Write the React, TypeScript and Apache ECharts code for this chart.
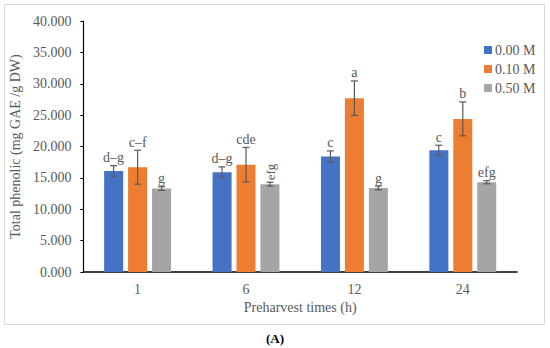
import React, { useEffect, useRef } from "react";
import * as echarts from "echarts";

const categories = ["1", "6", "12", "24"];
const seriesNames = ["0.00 M", "0.10 M", "0.50 M"];
const colors = ["#4472C4", "#ED7D31", "#A5A5A5"];
const values0 = [16.1, 15.9, 18.4, 19.4];
const values1 = [16.7, 17.1, 27.7, 24.4];
const values2 = [13.3, 14.0, 13.4, 14.3];
const errors0 = [0.85, 0.85, 0.9, 0.8];
const errors1 = [2.7, 2.75, 2.75, 2.7];
const errors2 = [0.3, 0.3, 0.3, 0.25];
const letters0 = ["d–g", "d–g", "c", "c"];
const letters1 = ["c–f", "cde", "a", "b"];
const letters2 = ["g", "efg", "g", "efg"];
const yTicks = ["0.000", "5.000", "10.000", "15.000", "20.000", "25.000", "30.000", "35.000", "40.000"];

const FONT = "'Liberation Serif', 'Times New Roman', serif";
const TEXT = "#595959";

export default function App() {
  const ref = useRef<HTMLDivElement>(null);
  useEffect(() => {
    if (!ref.current) return;
    const chart = echarts.init(ref.current, undefined, { renderer: "svg" });
    const vals = [values0, values1, values2];
    const errs = [errors0, errors1, errors2];
    const lets = [letters0, letters1, letters2];
    const errData: any[] = [];
    for (let s = 0; s < 3; s++) {
      for (let i = 0; i < categories.length; i++) {
        errData.push([i, vals[s][i], errs[s][i], s]);
      }
    }
    const barWidth = 19;
    const step = 24;
    chart.setOption({
      animation: false,
      textStyle: { fontFamily: FONT },
      grid: { left: 79, right: 33, top: 21, bottom: 76 },
      legend: {
        orient: "vertical",
        left: 479,
        top: 38,
        itemWidth: 8,
        itemHeight: 8,
        itemGap: 5,
        icon: "rect",
        data: seriesNames,
        textStyle: { fontFamily: FONT, fontSize: 14, color: TEXT, padding: [0, 0, 0, -2] },
      },
      xAxis: {
        type: "category",
        data: categories,
        axisLine: { lineStyle: { color: "#000", width: 1.5 } },
        axisTick: { show: false },
        axisLabel: { fontFamily: FONT, fontSize: 14, color: TEXT, margin: 10 },
        name: "Preharvest times (h)",
        nameLocation: "middle",
        nameGap: 28,
        nameTextStyle: { fontFamily: FONT, fontSize: 14, color: TEXT },
      },
      yAxis: {
        type: "value",
        min: 0,
        max: 40,
        interval: 5,
        axisLine: { show: true, lineStyle: { color: "#000", width: 1.2 } },
        axisTick: { show: true, length: 3, lineStyle: { color: "#000" } },
        splitLine: { show: false },
        axisLabel: {
          fontFamily: FONT,
          fontSize: 14,
          color: TEXT,
          margin: 12,
          formatter: (v: number) => yTicks[Math.round(v / 5)] ?? v.toFixed(3),
        },
        name: "Total phenolic (mg GAE /g DW)",
        nameLocation: "middle",
        nameGap: 55,
        nameTextStyle: { fontFamily: FONT, fontSize: 14, color: TEXT },
      },
      series: [
        ...seriesNames.map((n, s) => ({
          name: n,
          type: "bar",
          data: vals[s],
          barWidth,
          barGap: "26%",
          itemStyle: { color: colors[s] },
        })),
        {
          type: "custom",
          data: errData,
          z: 10,
          renderItem: (params: any, api: any) => {
            const ci = api.value(0);
            const v = api.value(1);
            const e = api.value(2);
            const s = api.value(3);
            const center = api.coord([ci, v]);
            const x = center[0] + (s - 1) * step;
            const yTop = api.coord([ci, v + e])[1];
            const yBot = api.coord([ci, v - e])[1];
            const style = { stroke: "#595959", lineWidth: 1.2 };
            const label = lets[s][ci];
            const rotated = s === 2 && ci === 1;
            const children: any[] = [
              { type: "line", shape: { x1: x, y1: yTop, x2: x, y2: yBot }, style },
              { type: "line", shape: { x1: x - 3.5, y1: yTop, x2: x + 3.5, y2: yTop }, style },
              { type: "line", shape: { x1: x - 3.5, y1: yBot, x2: x + 3.5, y2: yBot }, style },
            ];
            if (rotated) {
              children.push({
                type: "text",
                x: x,
                y: yTop - 2,
                rotation: Math.PI / 2,
                style: {
                  text: label,
                  font: `13px ${FONT}`,
                  fill: TEXT,
                  align: "left",
                  verticalAlign: "middle",
                },
              });
            } else {
              children.push({
                type: "text",
                x: x,
                y: yTop - 1,
                style: {
                  text: label,
                  font: `14px ${FONT}`,
                  fill: TEXT,
                  align: "center",
                  verticalAlign: "bottom",
                },
              });
            }
            return { type: "group", children };
          },
        },
      ],
      graphic: [
        {
          type: "rect",
          shape: { x: 4.5, y: 4.5, width: 540, height: 320 },
          style: { fill: "none", stroke: "#d9d9d9", lineWidth: 1 },
          silent: true,
        },
        {
          type: "text",
          x: 275,
          y: 338,
          style: {
            text: "(A)",
            font: `bold 13px ${FONT}`,
            fill: "#000",
            align: "center",
            verticalAlign: "middle",
          },
        },
      ],
    });
    return () => chart.dispose();
  }, []);
  return (
    <div
      ref={ref}
      style={{ position: "fixed", left: 0, top: 0, width: 550, height: 348, background: "#fff" }}
    />
  );
}
